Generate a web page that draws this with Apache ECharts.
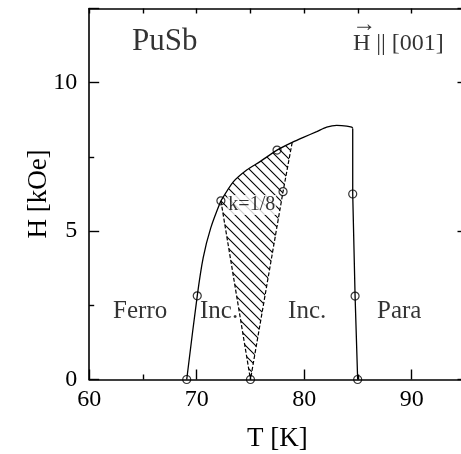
<!DOCTYPE html>
<html>
<head>
<meta charset="utf-8">
<script src="https://cdn.jsdelivr.net/npm/echarts@6/dist/echarts.min.js"></script>
<style>
  html, body { margin: 0; padding: 0; background: #fff; }
  #chart { width: 461px; height: 454px; }
</style>
</head>
<body>
<div id="chart"></div>
<script>
// PuSb magnetic phase diagram, field along [001]

// Ferro / incommensurate boundary (T in K, H in kOe)
const leftBoundaryT = [69.07, 70.05, 70.6, 71.3, 72.25];
const leftBoundaryH = [0, 2.82, 4.1, 5.1, 6.02];

// Upper boundary of the ordered phases
const upperBoundaryT = [72.25, 73.4, 74.65, 75.89, 77.47, 78.88, 79.92, 81.16, 82.09, 83.02, 83.95, 84.42, 84.51];
const upperBoundaryH = [6.02, 6.66, 7.06, 7.34, 7.73, 7.99, 8.16, 8.35, 8.50, 8.56, 8.54, 8.50, 8.46];

// Paramagnetic boundary
const paraBoundaryT = [84.51, 84.51, 84.73, 84.97];
const paraBoundaryH = [8.46, 6.25, 2.81, 0];

// k = 1/8 pocket edges (dashed)
const pocketLeftT = [72.25, 75.0];
const pocketLeftH = [6.02, 0];
const pocketRightT = [78.88, 78.03, 75.0];
const pocketRightH = [7.99, 6.33, 0];

// Measured transition points
const pointT = [69.07, 75.0, 84.97, 70.05, 84.73, 72.25, 77.47, 78.03, 84.51];
const pointH = [0, 0, 0, 2.82, 2.81, 6.02, 7.73, 6.33, 6.25];

// Phase and sample annotations
const noteText = ['PuSb', 'H || [001]', '\u2192', 'Ferro', 'Inc.', 'Inc.', 'Para', 'k=1/8'];
const noteT = [63.98, 84.53, 84.47, 62.22, 70.31, 78.5, 86.77, 72.85];
const noteH = [11.39, 11.32, 11.95, 2.3, 2.3, 2.3, 2.3, 5.88];

// Tick labels
const xTickLabels = [60, 70, 80, 90];
const yTickLabels = [0, 5, 10];

const FONT = 'Liberation Serif';
const zip = (a, b) => a.map((v, i) => [v, b[i]]);

// hatch pattern for the k = 1/8 region
function hatchPattern() {
  const s = 10;
  const c = document.createElement('canvas');
  c.width = s; c.height = s;
  const g = c.getContext('2d');
  g.strokeStyle = '#000';
  g.lineWidth = 1.1;
  g.beginPath();
  g.moveTo(-1, -1); g.lineTo(s + 1, s + 1);
  g.moveTo(-1, s - 1); g.lineTo(1, s + 1);
  g.moveTo(s - 1, -1); g.lineTo(s + 1, 1);
  g.stroke();
  return c;
}
const hatch = hatchPattern();

const noteSize = { 'PuSb': 31, 'H || [001]': 24, '\u2192': 24, 'Ferro': 25, 'Inc.': 25, 'Para': 25, 'k=1/8': 20 };
const noteBackground = { 'k=1/8': '#fff' };

const lineStyleSolid = { color: '#000', width: 1.3 };
const lineStyleDash = { color: '#000', width: 1.2, type: [4, 2] };

const chart = echarts.init(document.getElementById('chart'), null, { renderer: 'canvas' });

const option = {
  backgroundColor: '#fff',
  animation: false,
  textStyle: { fontFamily: FONT, color: '#000' },
  grid: { left: 89.2, width: 376.3, top: 8.5, height: 371, outerBoundsMode: 'none', containLabel: false },
  xAxis: [
    {
      type: 'value', min: 60, max: 95, interval: 10, position: 'bottom',
      name: 'T [K]', nameLocation: 'middle', nameGap: 46, nameMoveOverlap: false,
      nameTextStyle: { fontFamily: FONT, fontSize: 27, color: '#000' },
      axisLine: { show: true, lineStyle: { color: '#000', width: 1.6 } },
      axisTick: { show: true, inside: true, length: 10, lineStyle: { color: '#000', width: 1.4 } },
      minorTick: { show: true, splitNumber: 2, length: 5, lineStyle: { color: '#000', width: 1.4 } },
      axisLabel: {
        fontFamily: FONT, fontSize: 24, color: '#000', margin: 8,
        formatter: v => xTickLabels.includes(v) ? String(v) : ''
      },
      splitLine: { show: false }
    },
    {
      type: 'value', min: 60, max: 95, interval: 5, position: 'top',
      axisLine: { show: true, onZero: false, lineStyle: { color: '#000', width: 1.6 } },
      axisTick: { show: true, inside: true, length: 5, lineStyle: { color: '#000', width: 1.4 } },
      axisLabel: { show: false },
      splitLine: { show: false }
    }
  ],
  yAxis: [
    {
      type: 'value', min: 0, max: 12.5, interval: 5, position: 'left',
      name: 'H [kOe]', nameLocation: 'middle', nameGap: 37, nameRotate: 90, nameMoveOverlap: false,
      nameTextStyle: { fontFamily: FONT, fontSize: 27, color: '#000' },
      axisLine: { show: true, onZero: false, lineStyle: { color: '#000', width: 1.6 } },
      axisTick: { show: true, inside: true, length: 10, lineStyle: { color: '#000', width: 1.4 } },
      minorTick: { show: true, splitNumber: 2, length: 5, lineStyle: { color: '#000', width: 1.4 } },
      axisLabel: {
        fontFamily: FONT, fontSize: 24, color: '#000', margin: 12,
        formatter: v => yTickLabels.includes(v) ? String(v) : ''
      },
      splitLine: { show: false }
    },
    {
      type: 'value', min: 0, max: 12.5, interval: 5, position: 'right',
      axisLine: { show: true, onZero: false, lineStyle: { color: '#000', width: 1.6 } },
      axisTick: { show: true, inside: true, length: 8, lineStyle: { color: '#000', width: 1.4 } },
      axisLabel: { show: false },
      splitLine: { show: false }
    }
  ],
  series: [
    {
      // hatched k = 1/8 pocket
      type: 'custom',
      xAxisIndex: 0, yAxisIndex: 0,
      silent: true,
      data: [[0]],
      renderItem: function (params, api) {
        const upper = zip(upperBoundaryT, upperBoundaryH).filter(p => p[0] <= pocketRightT[0]);
        const right = zip(pocketRightT, pocketRightH).slice(1);
        const poly = upper.concat(right).map(p => api.coord(p));
        return {
          type: 'polygon',
          shape: { points: poly, smooth: 0 },
          style: { fill: { image: hatch, repeat: 'repeat' }, stroke: null }
        };
      },
      z: 1
    },
    {
      type: 'line', data: zip(leftBoundaryT, leftBoundaryH), smooth: 0.3,
      showSymbol: false, lineStyle: lineStyleSolid, z: 3
    },
    {
      type: 'line', data: zip(upperBoundaryT, upperBoundaryH), smooth: 0.25,
      showSymbol: false, lineStyle: lineStyleSolid, z: 3
    },
    {
      type: 'line', data: zip(paraBoundaryT, paraBoundaryH), smooth: false,
      showSymbol: false, lineStyle: lineStyleSolid, z: 3
    },
    {
      type: 'line', data: zip(pocketLeftT, pocketLeftH),
      showSymbol: false, lineStyle: lineStyleDash, z: 3
    },
    {
      type: 'line', data: zip(pocketRightT, pocketRightH),
      showSymbol: false, lineStyle: lineStyleDash, z: 3
    },
    {
      type: 'scatter', data: zip(pointT, pointH),
      symbol: 'circle', symbolSize: 8, clip: false,
      itemStyle: { color: 'rgba(255,255,255,0)', borderColor: '#000', borderWidth: 1.2 },
      z: 5
    },
    {
      type: 'scatter', symbolSize: 0, clip: false, silent: true,
      data: noteText.map((t, i) => ({
        value: [noteT[i], noteH[i]],
        label: {
          fontSize: noteSize[t],
          backgroundColor: noteBackground[t] || 'transparent',
          padding: noteBackground[t] ? [0, 1] : 0
        }
      })),
      label: {
        show: true, position: 'right', distance: 0,
        fontFamily: FONT, color: '#000',
        formatter: p => noteText[p.dataIndex]
      },
      z: 6
    }
  ]
};

chart.setOption(option);
</script>
</body>
</html>
